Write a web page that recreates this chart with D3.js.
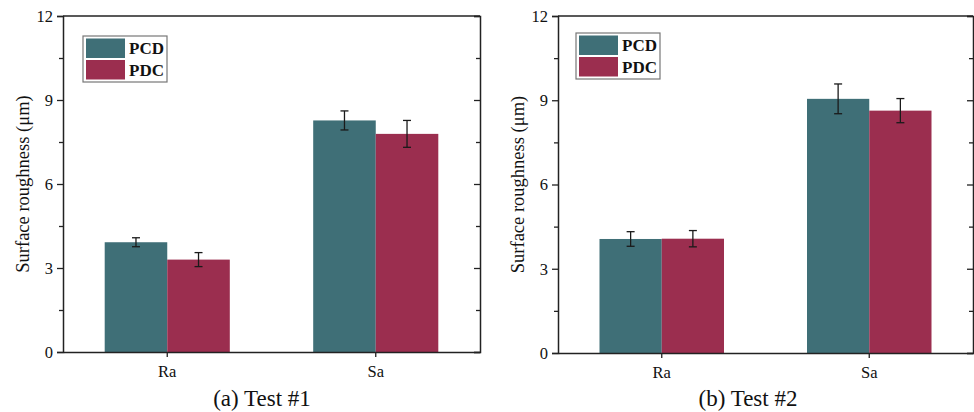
<!DOCTYPE html>
<html>
<head>
<meta charset="utf-8">
<script src="https://cdn.jsdelivr.net/npm/d3@7/dist/d3.min.js"></script>
</head>
<body style="margin:0">
<svg id="chart" width="974" height="412"></svg>
<script>
// Surface roughness measurements (mean and error) per tool type
const categories = ["Ra", "Sa"];
const seriesNames = ["PCD", "PDC"];

const test1PCD = [3.92, 8.27];
const test1PCDErr = [0.16, 0.34];
const test1PDC = [3.30, 7.79];
const test1PDCErr = [0.25, 0.48];

const test2PCD = [4.06, 9.05];
const test2PCDErr = [0.26, 0.53];
const test2PDC = [4.07, 8.63];
const test2PDCErr = [0.29, 0.43];

const yTicks = [0, 3, 6, 9, 12];
const yMinorTicks = [1.5, 4.5, 7.5, 10.5];
const yTitle = "Surface roughness (\u03bcm)";
const captions = ["(a) Test #1", "(b) Test #2"];

const colors = { PCD: "#3f6f77", PDC: "#9b2e4f" };
const serif = '"Liberation Serif"';

const panels = [
  { caption: captions[0], capX: 262, left: 63, right: 480, top: 16, bottom: 352, legX: 83, legY: 36,
    values: { PCD: test1PCD, PDC: test1PDC }, errors: { PCD: test1PCDErr, PDC: test1PDCErr } },
  { caption: captions[1], capX: 748, left: 558, right: 973, top: 16, bottom: 353, legX: 576, legY: 33,
    values: { PCD: test2PCD, PDC: test2PDC }, errors: { PCD: test2PCDErr, PDC: test2PDCErr } }
];

const svg = d3.select("#chart");

// every label goes through this helper so they share one typeface
const label = (sel, size) => sel.style("font-family", serif).attr("font-size", size).attr("fill", "#111");

panels.forEach(p => {
  const g = svg.append("g");

  const y = d3.scaleLinear().domain([0, 12]).range([p.bottom, p.top]);
  const x = d3.scaleBand().domain(categories).range([p.left, p.right])
    .paddingInner(0.4).paddingOuter(0.2);
  const xs = d3.scaleBand().domain(seriesNames).range([0, x.bandwidth()]).padding(0);

  // bars
  seriesNames.forEach(s => {
    const vals = p.values[s], errs = p.errors[s];
    const rows = categories.map((c, i) => ({ c, v: vals[i], e: errs[i] }));
    g.append("g").selectAll("rect").data(rows).join("rect")
      .attr("x", d => x(d.c) + xs(s))
      .attr("y", d => y(d.v))
      .attr("width", xs.bandwidth())
      .attr("height", d => y(0) - y(d.v))
      .attr("fill", colors[s]);

    // error bars
    const eb = g.append("g").attr("stroke", "#1a1a1a").attr("stroke-width", 1.3);
    rows.forEach(d => {
      const cx = x(d.c) + xs(s) + xs.bandwidth() / 2;
      eb.append("line").attr("x1", cx).attr("x2", cx).attr("y1", y(d.v + d.e)).attr("y2", y(d.v - d.e));
      [d.v + d.e, d.v - d.e].forEach(t => {
        eb.append("line").attr("x1", cx - 4).attr("x2", cx + 4).attr("y1", y(t)).attr("y2", y(t));
      });
    });
  });

  // axes
  const axisStyle = sel => {
    sel.attr("font-family", null).attr("font-size", null);
    sel.select(".domain").attr("stroke", "#222").attr("stroke-width", 1.5);
    sel.selectAll(".tick line").attr("stroke", "#222").attr("stroke-width", 1.3);
    sel.selectAll("text").call(label, 16.5);
  };

  g.append("g").attr("transform", `translate(${p.left},0)`)
    .call(d3.axisLeft(y).tickValues(yTicks).tickSize(6).tickPadding(4).tickFormat(d3.format("d")))
    .call(axisStyle);
  g.append("g").attr("transform", `translate(${p.left},0)`)
    .call(d3.axisLeft(y).tickValues(yMinorTicks).tickSize(4).tickFormat(""))
    .call(axisStyle).call(a => a.select(".domain").remove());

  g.append("g").attr("transform", `translate(${p.right},0)`)
    .call(d3.axisRight(y).tickValues(yTicks).tickSize(-6).tickFormat(""))
    .call(axisStyle);
  g.append("g").attr("transform", `translate(${p.right},0)`)
    .call(d3.axisRight(y).tickValues(yMinorTicks).tickSize(-4).tickFormat(""))
    .call(axisStyle).call(a => a.select(".domain").remove());

  g.append("g").attr("transform", `translate(0,${p.bottom})`)
    .call(d3.axisBottom(x).tickSize(5).tickPadding(8).tickSizeOuter(0))
    .call(axisStyle);

  g.append("line")
    .attr("x1", p.left).attr("x2", p.right).attr("y1", p.top).attr("y2", p.top)
    .attr("stroke", "#222").attr("stroke-width", 1.5);

  // y-axis title
  g.append("text")
    .attr("transform", `translate(${p.left - 34},${(p.top + p.bottom) / 2}) rotate(-90)`)
    .attr("text-anchor", "middle")
    .call(label, 18.5)
    .text(yTitle);

  // legend
  const leg = g.append("g").attr("transform", `translate(${p.legX},${p.legY})`);
  leg.append("rect").attr("width", 84).attr("height", 46)
    .attr("fill", "#fff").attr("stroke", "#777").attr("stroke-width", 1.2);
  seriesNames.forEach((s, i) => {
    leg.append("rect").attr("x", 3).attr("y", 2.5 + i * 21.5).attr("width", 39).attr("height", 19.5)
      .attr("fill", colors[s]);
    leg.append("text").attr("x", 46).attr("y", 18 + i * 22)
      .call(label, 17).attr("font-weight", "bold").text(s);
  });

  // panel caption
  g.append("text").attr("x", p.capX).attr("y", 406)
    .attr("text-anchor", "middle").call(label, 23).text(p.caption);
});
</script>
</body>
</html>
